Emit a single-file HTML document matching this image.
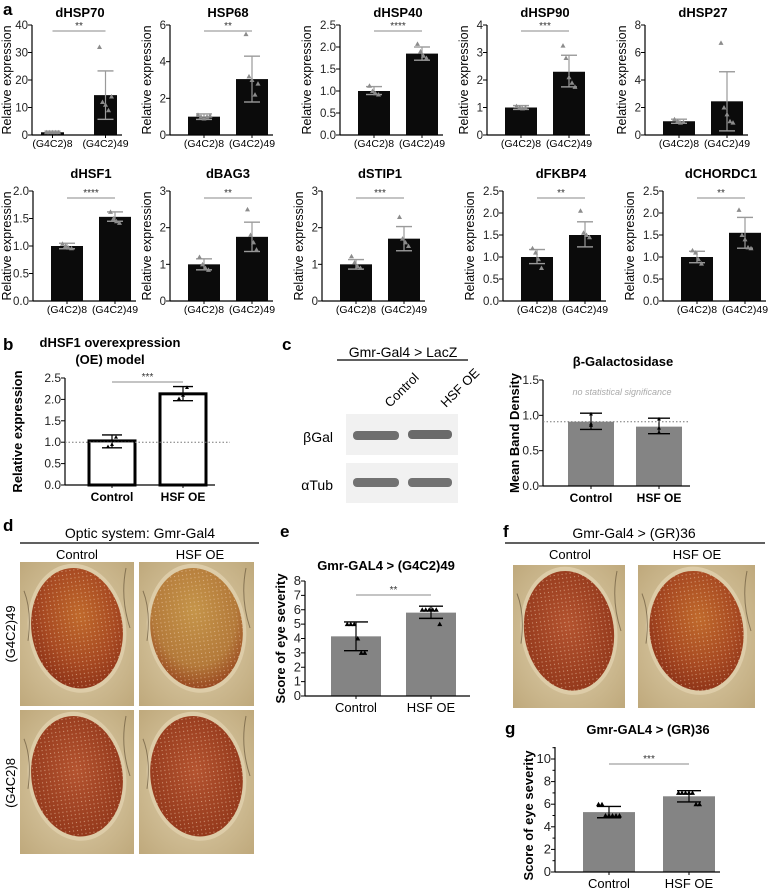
<!DOCTYPE html>
<html><head><meta charset="utf-8"><style>
body{margin:0;background:#fff;}
svg{display:block;font-family:"Liberation Sans",sans-serif;}
</style></head><body>
<svg id="fig" width="774" height="889" viewBox="0 0 774 889" xmlns="http://www.w3.org/2000/svg">
<defs>
<radialGradient id="cream" cx="0.5" cy="0.5" r="0.7"><stop offset="0" stop-color="#e2d3b0"/><stop offset="1" stop-color="#bfa97c"/></radialGradient>
<radialGradient id="eyeA" cx="0.55" cy="0.4" r="0.65"><stop offset="0" stop-color="#c06a2c"/><stop offset="0.6" stop-color="#a84a22"/><stop offset="1" stop-color="#8a3016"/></radialGradient>
<radialGradient id="eyeB" cx="0.5" cy="0.35" r="0.7"><stop offset="0" stop-color="#c5954a"/><stop offset="0.65" stop-color="#b47a3a"/><stop offset="1" stop-color="#923c1a"/></radialGradient>
<radialGradient id="eyeC" cx="0.5" cy="0.45" r="0.65"><stop offset="0" stop-color="#b45430"/><stop offset="1" stop-color="#8e3418"/></radialGradient>
<pattern id="facets" width="4" height="4" patternUnits="userSpaceOnUse"><circle cx="2" cy="2" r="0.6" fill="#f0d0b0" opacity="0.6"/></pattern>
</defs>
<g id="static" font-family="Liberation Sans, sans-serif">
<text x="3" y="15" font-size="17" font-weight="bold">a</text>
<text x="3" y="350" font-size="17" font-weight="bold">b</text>
<text x="110" y="347" font-size="13" font-weight="bold" text-anchor="middle">dHSF1 overexpression</text>
<text x="110" y="364" font-size="13" font-weight="bold" text-anchor="middle">(OE) model</text>
<text x="282" y="350" font-size="17" font-weight="bold">c</text>
<text x="403" y="357" font-size="14" text-anchor="middle">Gmr-Gal4 &gt; LacZ</text>
<line x1="337" y1="360" x2="468" y2="360" stroke="#000" stroke-width="1.2"/>
<text transform="translate(390,408) rotate(-45)" font-size="13">Control</text>
<text transform="translate(446,408) rotate(-45)" font-size="13">HSF OE</text>
<rect x="346" y="414" width="112" height="41" fill="#f1f1f1"/>
<rect x="346" y="463" width="112" height="40" fill="#f1f1f1"/>
<rect x="353" y="431" width="46" height="9" rx="4" fill="#6e6e6e"/>
<rect x="408" y="430" width="44" height="9" rx="4" fill="#6a6a6a"/>
<rect x="353" y="478" width="46" height="9" rx="4" fill="#727272"/>
<rect x="408" y="478" width="44" height="9" rx="4" fill="#727272"/>
<text x="333" y="442" font-size="14" text-anchor="end">βGal</text>
<text x="333" y="490" font-size="14" text-anchor="end">αTub</text>
<text x="623" y="366" font-size="13" font-weight="bold" text-anchor="middle">β-Galactosidase</text>
<text x="622" y="395" font-size="9" font-style="italic" fill="#aaa" text-anchor="middle">no statistical significance</text>

<text x="3" y="531" font-size="17" font-weight="bold">d</text>
<text x="140" y="538" font-size="14" text-anchor="middle">Optic system: Gmr-Gal4</text>
<line x1="20" y1="543" x2="259" y2="543" stroke="#000" stroke-width="1.2"/>
<text x="77" y="559" font-size="13" text-anchor="middle">Control</text>
<text x="200" y="559" font-size="13" text-anchor="middle">HSF OE</text>
<text transform="translate(15,634) rotate(-90)" font-size="13" text-anchor="middle">(G4C2)49</text>
<text transform="translate(15,783) rotate(-90)" font-size="13" text-anchor="middle">(G4C2)8</text>

<text x="280" y="537" font-size="17" font-weight="bold">e</text>
<text x="386" y="570" font-size="13" font-weight="bold" text-anchor="middle">Gmr-GAL4 &gt; (G4C2)49</text>

<text x="503" y="537" font-size="17" font-weight="bold">f</text>
<text x="634" y="538" font-size="14" text-anchor="middle">Gmr-Gal4 &gt; (GR)36</text>
<line x1="505" y1="543" x2="765" y2="543" stroke="#000" stroke-width="1.2"/>
<text x="570" y="559" font-size="13" text-anchor="middle">Control</text>
<text x="697" y="559" font-size="13" text-anchor="middle">HSF OE</text>

<text x="505" y="734" font-size="17" font-weight="bold">g</text>
<text x="648" y="734" font-size="13" font-weight="bold" text-anchor="middle">Gmr-GAL4 &gt; (GR)36</text>
</g>
<g id="dyn"></g>
</svg>
<script>
// ---------- data ----------
const geneTitles = ["dHSP70","HSP68","dHSP40","dHSP90","dHSP27","dHSF1","dBAG3","dSTIP1","dFKBP4","dCHORDC1"];
const geneCategories = ["(G4C2)8","(G4C2)49"];
const geneYMax = [40,6,2.5,4,8,2,3,3,2.5,2.5];
const geneTicks = [[0,10,20,30,40],[0,2,4,6],[0,0.5,1,1.5,2,2.5],[0,1,2,3,4],[0,2,4,6,8],[0,0.5,1,1.5,2],[0,1,2,3],[0,1,2,3],[0,0.5,1,1.5,2,2.5],[0,0.5,1,1.5,2,2.5]];
const geneTickLabels = [["0","10","20","30","40"],["0","2","4","6"],["0.0","0.5","1.0","1.5","2.0","2.5"],["0","1","2","3","4"],["0","2","4","6","8"],["0.0","0.5","1.0","1.5","2.0"],["0","1","2","3"],["0","1","2","3"],["0.0","0.5","1.0","1.5","2.0","2.5"],["0.0","0.5","1.0","1.5","2.0","2.5"]];
const geneCtrlMean = [1,1,1,1,1,1,1,1,1,1];
const geneCaseMean = [14.5,3.05,1.85,2.3,2.45,1.53,1.75,1.7,1.5,1.55];
const geneCtrlErrLo = [0.6,0.85,0.92,0.93,0.85,0.95,0.85,0.87,0.85,0.87];
const geneCtrlErrHi = [1.4,1.15,1.1,1.07,1.15,1.05,1.15,1.13,1.17,1.13];
const geneCaseErrLo = [5.7,1.8,1.7,1.75,0.3,1.45,1.35,1.37,1.23,1.2];
const geneCaseErrHi = [23.3,4.3,2.0,2.9,4.6,1.62,2.15,2.03,1.8,1.9];
const geneCtrlPts = [[1,1,1,1,1],[1.1,1,0.9,1,1.05],[1.12,1,0.95,0.92],[1.05,1,0.97,1],[1.15,1,0.9,0.95],[1.04,1,0.97,0.96],[1.2,1,0.9,0.85],[1.22,1.05,0.95,0.9],[1.2,1.1,0.95,0.75],[1.15,1.1,0.95,0.85]];
const geneCasePts = [[32,12,11,9,14],[5.5,3.2,3,2.2,2.8],[2.07,1.9,1.8,1.75],[3.25,2.8,2.1,1.9,1.75],[6.7,2,1.5,1,0.9],[1.62,1.5,1.45,1.42],[2.5,1.8,1.6,1.4],[2.29,1.7,1.6,1.5],[2.05,1.55,1.5,1.45],[2.07,1.5,1.4,1.22,1.2]];
const geneSig = ["**","**","****","***","","****","**","***","**","**"];

const bCategories = ["Control","HSF OE"];
const bMeans = [1.03,2.13];
const bErrLo = [0.87,1.97];
const bErrHi = [1.17,2.3];
const bPts = [[0.9,0.95,1.12],[2.02,2.1,2.28]];
const bTicks = [0,0.5,1,1.5,2,2.5];
const bTickLabels = ["0.0","0.5","1.0","1.5","2.0","2.5"];

const cMeans = [0.91,0.84];
const cErrLo = [0.8,0.74];
const cErrHi = [1.03,0.96];
const cPts = [[0.86,0.88,1.02],[0.76,0.82,0.95]];
const cTicks = [0,0.5,1,1.5];
const cTickLabels = ["0.0","0.5","1.0","1.5"];

const eMeans = [4.15,5.8];
const eErrLo = [3.15,5.4];
const eErrHi = [5.15,6.25];
const ePts = [[5,5,5,4,3,3],[6,6,6,6,6,5]];
const eTicks = [0,1,2,3,4,5,6,7,8];
const eTickLabels = ["0","1","2","3","4","5","6","7","8"];

const gMeans = [5.3,6.7];
const gErrLo = [4.8,6.2];
const gErrHi = [5.8,7.2];
const gPts = [[6,6,5,5,5,5,5],[7,7,7,7,7,6,6]];
const gTicks = [0,2,4,6,8,10];
const gTickLabels = ["0","2","4","6","8","10"];

// ---------- drawing ----------
const NS="http://www.w3.org/2000/svg";
const root=document.getElementById('dyn');
function el(tag,attrs,name,parent){
  const e=document.createElementNS(NS,tag);
  for(const k in attrs) e.setAttribute(k,attrs[k]);
  
  
  (parent||root).appendChild(e);
  return e;
}
function txt(x,y,s,size,name,opts){
  const t=el('text',Object.assign({x:x,y:y,'font-size':size,'text-anchor':'middle'},opts||{}),name);
  t.textContent=s; return t;
}
function tri(x,y,s,fill,name){
  el('path',{d:`M${x} ${y-s}L${x+s} ${y+s*0.8}L${x-s} ${y+s*0.8}Z`,fill:fill},name);
}

function barChart(L,D){
  const y=v=>L.y0-(v/L.max)*(L.y0-L.yTop);
  el('g',{},L.name);
  for(let i=0;i<2;i++){
    const bx=L.barX[i], bw=L.barW;
    const top=y(D.means[i]);
    el('rect',{x:bx,y:top,width:bw,height:L.y0-top,fill:L.fill,stroke:L.stroke||'none','stroke-width':L.sw||0},L.name+'-bar-'+(i+1));
    const cx=bx+bw/2;
    const ec=L.errDef;
    el('line',{x1:cx,y1:y(D.lo[i]),x2:cx,y2:y(D.hi[i]),stroke:ec,'stroke-width':1.2},L.name+'-errbar-'+(i+1));
    el('line',{x1:cx-L.cap,y1:y(D.lo[i]),x2:cx+L.cap,y2:y(D.lo[i]),stroke:ec,'stroke-width':1.4},L.name+'-errcap-low-'+(i+1));
    el('line',{x1:cx-L.cap,y1:y(D.hi[i]),x2:cx+L.cap,y2:y(D.hi[i]),stroke:ec,'stroke-width':1.4},L.name+'-errcap-high-'+(i+1));
    const pts=D.pts[i];
    pts.forEach((p,j)=>{
      const off=(j-(pts.length-1)/2)*L.jit;
      tri(cx+off,y(p),L.ptSize,L.ptColor,L.name+'-point');
    });
    if(L.catLabels) txt(cx,L.y0+L.catDy,L.catLabels[i],L.catSize,L.name+'-xlabel-'+(i+1),L.catBold?{'font-weight':'bold'}:{});
    el('line',{x1:cx,y1:L.y0,x2:cx,y2:L.y0+3,stroke:'#000','stroke-width':1},L.name+'-xtick');
  }
  el('line',{x1:L.ax,y1:L.axTop!==undefined?L.axTop:L.yTop,x2:L.ax,y2:L.y0,stroke:'#000','stroke-width':1.2},L.name+'-y-axis');
  el('line',{x1:L.ax,y1:L.y0,x2:L.axEnd,y2:L.y0,stroke:'#000','stroke-width':1.2},L.name+'-x-axis');
  D.ticks.forEach((t,k)=>{
    el('line',{x1:L.ax-4,y1:y(t),x2:L.ax,y2:y(t),stroke:'#000','stroke-width':1},L.name+'-ytick');
    txt(L.ax-4,y(t)+4,D.tickLabels[k],L.tickSize,L.name+'-ytick-label',{'text-anchor':'end',fill:'#222'});
  });
  if(L.minor) L.minor.forEach(t=>el('line',{x1:L.ax-2.5,y1:y(t),x2:L.ax,y2:y(t),stroke:'#000','stroke-width':1},L.name+'-ytick-minor'));
  if(L.ytitle) txt(0,0,L.ytitle,L.ytSize,L.name+'-y-axis-title',{transform:`translate(${L.ytX},${(L.yTop+L.y0)/2}) rotate(-90)`,'font-weight':L.ytBold?'bold':'normal'});
  if(L.title) txt(L.titleX,L.titleY,L.title,13,L.name+'-title',{'font-weight':'bold'});
  if(D.sig){
    const c1=L.barX[0]+L.barW/2, c2=L.barX[1]+L.barW/2;
    el('line',{x1:c1,y1:L.sigY,x2:c2,y2:L.sigY,stroke:'#888','stroke-width':1},L.name+'-sig-line');
    txt((c1+c2)/2,L.sigY-2,D.sig,10,L.name+'-sig-stars',{fill:'#333'});
  }
  if(L.dotted!==undefined) el('line',{x1:L.ax,y1:y(L.dotted),x2:L.dotEnd,y2:y(L.dotted),stroke:'#777','stroke-width':1,'stroke-dasharray':'1.5,2'},L.name+'-reference-line');
}

const rowAx=[[32,170,340,487,645],[33,170,322,503,663]];
for(let i=0;i<10;i++){
  const r=Math.floor(i/5), c=i%5, ax=rowAx[r][c];
  const first=(i===0);
  const wide=geneTickLabels[i].some(s=>s.length>1);
  const L={name:'chart-'+geneTitles[i].toLowerCase(),ax:ax,axEnd:first?122:ax+103,
    barX:first?[41,94]:[ax+18,ax+66],barW:first?23:32,
    y0:r?301:135,yTop:r?191:25,max:geneYMax[i],fill:'#0b0b0b',errDef:'#9a9a9a',cap:8,
    jit:3,ptSize:2.5,ptColor:'#8c8c8c',catLabels:geneCategories,catDy:12,catSize:10.5,
    tickSize:11.5,ytitle:'Relative expression',ytSize:12.5,ytX:Math.max(11,ax-(wide?29:19)),
    title:geneTitles[i],titleX:ax+(first?48:58),titleY:r?178:17,sigY:r?198:31};
  barChart(L,{means:[geneCtrlMean[i],geneCaseMean[i]],lo:[geneCtrlErrLo[i],geneCaseErrLo[i]],hi:[geneCtrlErrHi[i],geneCaseErrHi[i]],
    pts:[geneCtrlPts[i],geneCasePts[i]],ticks:geneTicks[i],tickLabels:geneTickLabels[i],sig:geneSig[i]});
}

barChart({name:'chart-b-hsf1-oe',ax:65,axEnd:215,barX:[89,160],barW:46,y0:485,yTop:378,max:2.5,fill:'#fff',stroke:'#000',sw:3,
  errDef:'#000',cap:10,jit:4,ptSize:2,ptColor:'#000',catLabels:bCategories,catDy:16,catSize:12,catBold:true,tickSize:12,
  ytitle:'Relative expression',ytSize:13,ytBold:true,ytX:22,sigY:382,dotted:1,dotEnd:230},
  {means:bMeans,lo:bErrLo,hi:bErrHi,pts:bPts,ticks:bTicks,tickLabels:bTickLabels,sig:'***'});

barChart({name:'chart-c-bgal-density',ax:543,axEnd:690,barX:[568,636],barW:46,y0:486,yTop:380,max:1.5,fill:'#848484',
  errDef:'#000',cap:11,jit:0,ptSize:2,ptColor:'#000',catLabels:bCategories,catDy:16,catSize:12,catBold:true,tickSize:12,
  ytitle:'Mean Band Density',ytSize:13,ytBold:true,ytX:519,dotted:0.91,dotEnd:690},
  {means:cMeans,lo:cErrLo,hi:cErrHi,pts:cPts,ticks:cTicks,tickLabels:cTickLabels,sig:''});

barChart({name:'chart-e-eye-severity',ax:305,axEnd:470,barX:[331,406],barW:50,y0:696,yTop:581,max:8,fill:'#848484',
  errDef:'#000',cap:12,jit:3.5,ptSize:2.5,ptColor:'#000',catLabels:bCategories,catDy:16,catSize:13,tickSize:13,
  ytitle:'Score of eye severity',ytSize:13,ytBold:true,ytX:285,sigY:595},
  {means:eMeans,lo:eErrLo,hi:eErrHi,pts:ePts,ticks:eTicks,tickLabels:eTickLabels,sig:'**'});

barChart({name:'chart-g-eye-severity',ax:555,axEnd:720,barX:[583,663],barW:52,y0:872,yTop:759,axTop:747,max:10,fill:'#848484',
  errDef:'#000',cap:12,jit:3.5,ptSize:2.5,ptColor:'#000',catLabels:bCategories,catDy:16,catSize:13,tickSize:13,
  ytitle:'Score of eye severity',ytSize:13,ytBold:true,ytX:533,sigY:764,minor:[1,3,5,7,9,11]},
  {means:gMeans,lo:gErrLo,hi:gErrHi,pts:gPts,ticks:gTicks,tickLabels:gTickLabels,sig:'***'});

function eye(x,y,w,h,grad,name){
  const g=el('g',{},name);
  el('rect',{x:x,y:y,width:w,height:h,fill:'url(#cream)'},name+'-background',g);
  const cx=x+w*0.5, cy=y+h*0.46;
  el('ellipse',{cx:cx,cy:cy,rx:w*0.43,ry:h*0.45,fill:'#ddcca8',transform:`rotate(-8 ${cx} ${cy})`},name+'-rim',g);
  el('ellipse',{cx:cx,cy:cy,rx:w*0.4,ry:h*0.42,fill:`url(#${grad})`,transform:`rotate(-8 ${cx} ${cy})`},name+'-eye',g);
  el('ellipse',{cx:cx,cy:cy,rx:w*0.4,ry:h*0.42,fill:'url(#facets)',transform:`rotate(-8 ${cx} ${cy})`},name+'-facets',g);
  el('path',{d:`M${x+4} ${y+h*0.2} q8 20 4 50 M${x+w-8} ${y+6} q-6 30 4 60`,stroke:'#5a4a30','stroke-width':1,fill:'none',opacity:0.6},name+'-bristles',g);
}
eye(20,562,114,144,'eyeA','photo-g4c2-49-control');
eye(139,562,115,144,'eyeB','photo-g4c2-49-hsf');
eye(20,710,114,144,'eyeC','photo-g4c2-8-control');
eye(139,710,115,144,'eyeC','photo-g4c2-8-hsf');
eye(513,565,112,143,'eyeC','photo-gr36-control');
eye(638,565,117,143,'eyeA','photo-gr36-hsf');
</script>
</body></html>
